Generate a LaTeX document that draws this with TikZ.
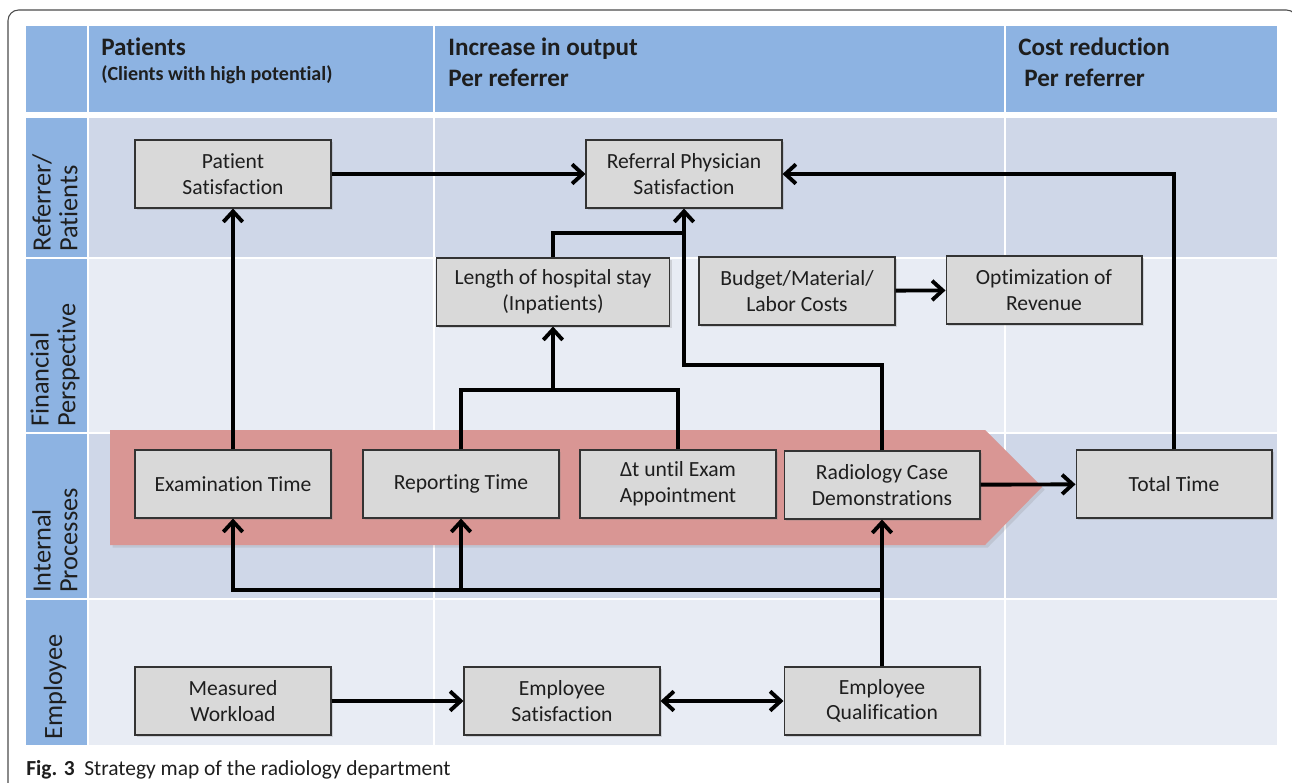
\documentclass[tikz,border=0pt]{standalone}
\usepackage{fontspec}
\setmainfont{Carlito}[RawFeature=-liga]
\usepackage{tikz}
\usetikzlibrary{arrows.meta,shadows}
\definecolor{headBlue}{RGB}{141,179,226}
\definecolor{rowDark}{RGB}{207,215,232}
\definecolor{rowLight}{RGB}{232,236,244}
\definecolor{procRed}{RGB}{217,150,148}
\definecolor{boxGray}{RGB}{217,217,217}
\definecolor{txt}{RGB}{30,30,30}

\begin{document}
\begin{tikzpicture}[x=0.02cm, y=-0.02cm,
  kpi/.style={draw=black!80, fill=boxGray, line width=0.6pt, minimum width=3.92cm, minimum height=1.36cm,
    inner sep=2pt, align=center, text=txt, font=\fontsize{12.3}{14.7}\selectfont,
    drop shadow={opacity=0.25, shadow xshift=1.2pt, shadow yshift=-1.2pt}},
  wide/.style={minimum width=4.66cm},
  link/.style={line width=2.2pt, -{Straight Barb[length=6pt,width=11pt]}},
  both/.style={line width=2.2pt, {Straight Barb[length=6pt,width=11pt]}-{Straight Barb[length=6pt,width=11pt]}},
  joint/.style={line width=2.2pt},
  rowlab/.style={rotate=90, anchor=west, align=left, inner sep=0pt, text=txt, font=\fontsize{15}{15.2}\selectfont},
  headtxt/.style={anchor=base west, inner sep=0pt, text=txt, font=\bfseries\fontsize{14.3}{17}\selectfont},
  subtxt/.style={anchor=base west, inner sep=0pt, text=txt, font=\bfseries\fontsize{11.4}{13}\selectfont}]
\useasboundingbox (0,0) rectangle (1292,782);

% frame
\draw[black!70, line width=0.6pt, rounded corners=6pt] (8,800) -- (8,10) -- (1297,10) -- (1297,800);

% header row
\fill[headBlue] (26,26) rectangle (87,112);
\foreach \xa/\xb in {89/433, 435/1004, 1006/1277}
  \fill[headBlue] (\xa,26) rectangle (\xb,112);

% perspective rows
\foreach \ya/\yb/\cRow in {118/257/rowDark, 259/432/rowLight, 434/598/rowDark, 600/745/rowLight}{
  \fill[headBlue] (26,\ya) rectangle (87,\yb);
  \foreach \xa/\xb in {89/433, 435/1004, 1006/1277}
    \fill[\cRow] (\xa,\ya) rectangle (\xb,\yb);
}

% header texts
\node[headtxt] (hPat) at (101,55) {Patients};
\node[subtxt] (hPatSub) at (101,80) {(Clients with high potential)};
\node[headtxt] (hOut) at (448,55) {Increase in output};
\node[headtxt] (hOut2) at (448,86) {Per referrer};
\node[headtxt] (hCost) at (1018,55) {Cost reduction};
\node[headtxt] (hCost2) at (1024,86) {Per referrer};

% row labels
\node[rowlab] (lRef) at (55,252) {Referrer/\\Patients};
\node[rowlab] (lFin) at (55,427) {Financial\\Perspective};
\node[rowlab] (lInt) at (55,593) {Internal\\Processes};
\node[rowlab] (lEmp) at (55,740) {Employee};

% process chevron
\fill[procRed, drop shadow={opacity=0.2, shadow xshift=1.5pt, shadow yshift=-1.5pt}]
  (110,430) -- (985,430) -- (1042,487) -- (985,545) -- (110,545) -- cycle;

% boxes
\node[kpi] (PS) at (233,174) {Patient\\Satisfaction};
\node[kpi] (RP) at (684,174) {Referral Physician\\Satisfaction};
\node[kpi, wide] (LH) at (553,292) {Length of hospital stay\\(Inpatients)};
\node[kpi] (BC) at (797,291) {Budget/Material/\\Labor Costs};
\node[kpi] (OR) at (1044,290) {Optimization of\\Revenue};
\node[kpi] (ET) at (233,484) {Examination Time};
\node[kpi] (RT) at (461,484) {Reporting Time};
\node[kpi] (DT) at (678,484) {Δt until Exam\\Appointment};
\node[kpi] (RC) at (882,485) {Radiology Case\\Demonstrations};
\node[kpi] (TT) at (1174,484) {Total Time};
\node[kpi] (MW) at (233,701) {Measured\\Workload};
\node[kpi] (ES) at (562,701) {Employee\\Satisfaction};
\node[kpi] (EQ) at (882,701) {Employee\\Qualification};

% junctions
\coordinate (kLH) at (684,233);
\coordinate (kRC) at (684,365);
\coordinate (kRT) at (553,390);
\coordinate (kEQ) at (882,590);
\coordinate (kRTs) at (461,590);

% connectors
\draw[link] (PS) -- (RP);
\draw[link] (ET) -- (PS);
\draw[link] (TT.north) |- (RP.east);
\draw[joint] (LH.north) |- (kLH);
\draw[link] (RC.north) |- (kRC) -- (RP.south);
\draw[joint] (RT.north) |- (kRT) -| (DT.north);
\draw[link] (kRT) -- (LH.south);
\draw[link] (BC) -- (OR);
\draw[link] (RC) -- (TT);
\draw[link] (EQ) -- (RC);
\draw[link] (kEQ) -| (ET.south);
\draw[link] (kRTs) -- (RT.south);
\draw[link] (MW) -- (ES);
\draw[both] (ES) -- (EQ);

% caption
\node[anchor=base west, inner sep=0pt, text=txt, font=\fontsize{12.2}{14}\selectfont] (cap) at (26,775)
  {\textbf{Fig. 3}\hspace{0.45em}Strategy map of the radiology department};
\end{tikzpicture}
\end{document}
